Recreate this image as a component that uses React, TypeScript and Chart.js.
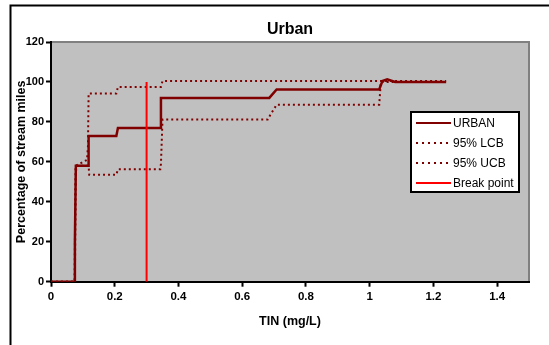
import React, { useEffect, useRef } from "react";
import { Chart, registerables } from "chart.js";

Chart.register(...registerables);

const TITLE = "Urban";
const X_TITLE = "TIN (mg/L)";
const Y_TITLE = "Percentage of stream miles";

const urbanX = [0, 0.073, 0.075, 0.078, 0.118, 0.118, 0.205, 0.21, 0.345, 0.345, 0.685, 0.708, 1.03, 1.04, 1.055, 1.08, 1.24];
const urbanY = [0, 0, 20, 58, 58, 73, 73, 77, 77, 92, 92, 96.2, 96.2, 100.5, 101.3, 100, 100];

const lcbX = [0, 0.075, 0.077, 0.079, 0.118, 0.12, 0.205, 0.21, 0.343, 0.345, 0.35, 0.68, 0.69, 0.708, 1.03, 1.035, 1.24];
const lcbY = [0, 0, 41, 58, 58, 53.5, 53.5, 56.3, 56.3, 59, 81.2, 81.2, 84, 88.6, 88.6, 100, 100];

const ucbX = [0, 0.074, 0.077, 0.113, 0.116, 0.118, 0.205, 0.21, 0.345, 0.35, 1.24];
const ucbY = [0, 0, 58, 61, 68, 94.2, 94.2, 97.5, 97.5, 100.5, 100.5];

const breakX = [0.3, 0.3];
const breakY = [0, 100];

const seriesNames = ["URBAN", "95% LCB", "95% UCB", "Break point"];

const toPts = (xs: number[], ys: number[]) => xs.map((x, i) => ({ x, y: ys[i] }));

const FONT = "'Liberation Sans', Arial, sans-serif";

const bgPlugin = {
  id: "bgPlugin",
  beforeDraw(chart: any) {
    const { ctx, chartArea: a, width, height } = chart;
    ctx.save();
    ctx.fillStyle = "#ffffff";
    ctx.fillRect(0, 0, width, height);
    // outer frame (top & left)
    ctx.strokeStyle = "#000";
    ctx.lineWidth = 2;
    ctx.beginPath();
    ctx.moveTo(10.5, height);
    ctx.lineTo(10.5, 5.5);
    ctx.lineTo(width, 5.5);
    ctx.stroke();
    // plot area
    ctx.fillStyle = "#c0c0c0";
    ctx.fillRect(a.left, a.top, a.right - a.left, a.bottom - a.top);
    ctx.strokeStyle = "#808080";
    ctx.lineWidth = 2;
    ctx.beginPath();
    ctx.moveTo(a.left, a.top);
    ctx.lineTo(a.right, a.top);
    ctx.lineTo(a.right, a.bottom);
    ctx.stroke();
    // title centred over the plot area
    ctx.fillStyle = "#000";
    ctx.font = `bold 16px ${FONT}`;
    ctx.textAlign = "center";
    ctx.textBaseline = "middle";
    ctx.fillText(TITLE, (a.left + a.right) / 2, a.top - 12.5);
    ctx.restore();
  },
};

const legendPlugin = {
  id: "boxLegend",
  afterDatasetsDraw(chart: any) {
    const { ctx, chartArea: a } = chart;
    const x0 = a.right - 118;
    const y0 = a.top + 70;
    const w = 108;
    const h = 80;
    ctx.save();
    ctx.fillStyle = "#fff";
    ctx.fillRect(x0, y0, w, h);
    ctx.strokeStyle = "#000";
    ctx.lineWidth = 2;
    ctx.strokeRect(x0, y0, w, h);
    chart.data.datasets.forEach((ds: any, i: number) => {
      const y = y0 + 11 + i * 20;
      ctx.strokeStyle = ds.borderColor;
      ctx.lineWidth = 2;
      ctx.setLineDash(ds.borderDash && ds.borderDash.length ? [2, 4] : []);
      ctx.beginPath();
      ctx.moveTo(x0 + 5, y);
      ctx.lineTo(x0 + 40, y);
      ctx.stroke();
      ctx.setLineDash([]);
      ctx.fillStyle = "#000";
      ctx.font = `12px ${FONT}`;
      ctx.textBaseline = "middle";
      ctx.textAlign = "left";
      ctx.fillText(ds.label, x0 + 42, y + 0.5);
    });
    ctx.restore();
  },
};

export default function App() {
  const ref = useRef<HTMLCanvasElement>(null);

  useEffect(() => {
    document.body.style.margin = "0";
    const canvas = ref.current!;
    const chart = new Chart(canvas, {
      type: "line",
      data: {
        datasets: [
          {
            label: seriesNames[0],
            data: toPts(urbanX, urbanY),
            borderColor: "#800000",
            borderWidth: 2.5,
            pointRadius: 0,
            order: 1,
          },
          {
            label: seriesNames[1],
            data: toPts(lcbX, lcbY),
            borderColor: "#800000",
            borderWidth: 2,
            borderDash: [2, 3],
            pointRadius: 0,
            order: 2,
          },
          {
            label: seriesNames[2],
            data: toPts(ucbX, ucbY),
            borderColor: "#800000",
            borderWidth: 2,
            borderDash: [2, 3],
            pointRadius: 0,
            order: 3,
          },
          {
            label: seriesNames[3],
            data: toPts(breakX, breakY),
            borderColor: "#ff0000",
            borderWidth: 2,
            pointRadius: 0,
            order: 0,
          },
        ],
      },
      options: {
        animation: false,
        responsive: false,
        devicePixelRatio: 1,
        layout: { padding: { left: 10, top: 42, right: 20, bottom: 0 } },
        plugins: {
          legend: { display: false },
          tooltip: { enabled: false },
          title: { display: false },
        },
        scales: {
          x: {
            type: "linear",
            min: 0,
            max: 1.5,
            ticks: {
              stepSize: 0.2,
              color: "#000",
              font: { family: FONT, size: 11.5, weight: "bold" },
              padding: 3,
              maxRotation: 0,
              callback: (v: any) => String(Math.round(Number(v) * 10) / 10),
            },
            afterBuildTicks: (s: any) => {
              s.ticks = s.ticks.filter((t: any) => t.value <= 1.41);
            },
            afterFit: (s: any) => {
              s.height = 63.3;
            },
            grid: {
              drawOnChartArea: false,
              drawTicks: true,
              tickLength: 5,
              tickColor: "#000",
              tickWidth: 2,
            },
            border: { color: "#000", width: 2 },
            title: {
              display: true,
              text: X_TITLE,
              color: "#000",
              font: { family: FONT, size: 12.5, weight: "bold" },
              padding: { top: 0, bottom: 16 },
            },
          },
          y: {
            type: "linear",
            min: 0,
            max: 120,
            ticks: {
              stepSize: 20,
              color: "#000",
              font: { family: FONT, size: 11, weight: "bold" },
              padding: 2,
            },
            afterFit: (s: any) => {
              s.width = 41;
            },
            grid: {
              drawOnChartArea: false,
              drawTicks: true,
              tickLength: 5,
              tickColor: "#000",
              tickWidth: 2,
            },
            border: { color: "#000", width: 2 },
            title: {
              display: true,
              text: Y_TITLE,
              color: "#000",
              font: { family: FONT, size: 12.5, weight: "bold" },
              padding: { top: 4, bottom: 0 },
            },
          },
        },
      },
      plugins: [bgPlugin, legendPlugin],
    });
    return () => chart.destroy();
  }, []);

  return <canvas ref={ref} width={549} height={345} style={{ display: "block", width: 549, height: 345 }} />;
}
